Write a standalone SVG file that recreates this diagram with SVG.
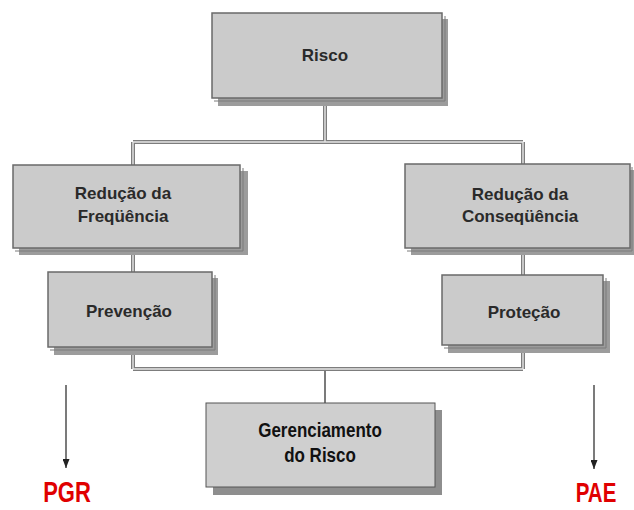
<svg xmlns="http://www.w3.org/2000/svg" width="634" height="510" viewBox="0 0 634 510">
<defs>
<marker id="ah" viewBox="0 0 10 10" refX="10" refY="5" markerWidth="9" markerHeight="7" orient="auto" markerUnits="userSpaceOnUse" preserveAspectRatio="none">
<path d="M0,0 L10,5 L0,10 z" fill="#222"/>
</marker>
<style>
.shadow{fill:#9c9c9c;}
.box{fill:#cbcbcb;stroke:#6a6a6a;stroke-width:1.5;}
.edge{fill:none;stroke:#7a7a7a;stroke-width:1;}
.t{font-family:"Liberation Sans",Arial,sans-serif;font-weight:bold;font-size:17px;fill:#2a2a2a;text-anchor:middle;}
.tb{font-family:"Liberation Sans",Arial,sans-serif;font-weight:bold;font-size:17px;fill:#111;text-anchor:middle;}
.red{font-family:"Liberation Sans",Arial,sans-serif;font-weight:bold;fill:#e00000;text-anchor:middle;}
.dl-o{fill:none;stroke:#7d7d7d;stroke-width:4;}
.dl-i{fill:none;stroke:#e6e6e6;stroke-width:1.4;}
.sl{fill:none;stroke:#5a5a5a;stroke-width:1.6;}
</style>
</defs>
<rect width="634" height="510" fill="#ffffff"/>
<g id="connectors">
<path class="dl-o" d="M325,98 V142 M133,142 H523 M133,142 V165 M523,142 V164 M133,248 V272 M523,248 V275 M133,347 V369 M523,345 V369 M133,369 H523"/>
<path class="dl-i" d="M325,98 V142 M133,142 H523 M133,142 V165 M523,142 V164 M133,248 V272 M523,248 V275 M133,347 V369 M523,345 V369 M133,369 H523"/>
<path class="sl" d="M325,371 V403"/>
<path class="sl" d="M66,385 V468" marker-end="url(#ah)"/>
<path class="sl" d="M594,385 V469" marker-end="url(#ah)"/>
</g>
<g id="node-risco">
<rect class="shadow" x="218" y="19" width="230" height="87"/>
<rect class="box" x="212" y="13" width="230" height="85"/>
<path class="edge" d="M214,101 H445 V16"/>
<text class="t" x="325" y="61">Risco</text>
</g>
<g id="node-reducao-freq">
<rect class="shadow" x="19" y="171" width="229" height="84"/>
<rect class="box" x="13" y="165" width="227" height="83"/>
<path class="edge" d="M15,251 H243 V168"/>
<text class="t" x="123" y="199">Redução da</text>
<text class="t" x="123" y="222">Freqüência</text>
</g>
<g id="node-reducao-cons">
<rect class="shadow" x="411" y="170" width="223" height="85"/>
<rect class="box" x="405" y="164" width="225" height="84"/>
<path class="edge" d="M407,251 H632 V167"/>
<text class="t" x="520" y="200">Redução da</text>
<text class="t" x="520" y="222">Conseqüência</text>
</g>
<g id="node-prevencao">
<rect class="shadow" x="54" y="278" width="164" height="77"/>
<rect class="box" x="48" y="272" width="164" height="75"/>
<path class="edge" d="M50,350 H215 V275"/>
<text class="t" x="129" y="317">Prevenção</text>
</g>
<g id="node-protecao">
<rect class="shadow" x="448" y="281" width="162" height="72"/>
<rect class="box" x="442" y="275" width="161" height="70"/>
<path class="edge" d="M444,348 H606 V278"/>
<text class="t" x="524" y="318">Proteção</text>
</g>
<g id="node-gerenciamento">
<rect x="213" y="410" width="229" height="85" fill="#8e8e8e"/>
<rect x="206" y="403" width="229" height="84" fill="#cfcfcf" stroke="#555" stroke-width="1"/>
<text class="tb" transform="translate(320,437) scale(1,1.15)">Gerenciamento</text>
<text class="tb" transform="translate(320,462) scale(1,1.15)">do Risco</text>
</g>
<g id="label-pgr">
<text class="red" font-size="22" transform="translate(67,502) scale(1,1.3)">PGR</text>
</g>
<g id="label-pae">
<text class="red" font-size="20.5" transform="translate(596,502) scale(1,1.33)">PAE</text>
</g>
</svg>
